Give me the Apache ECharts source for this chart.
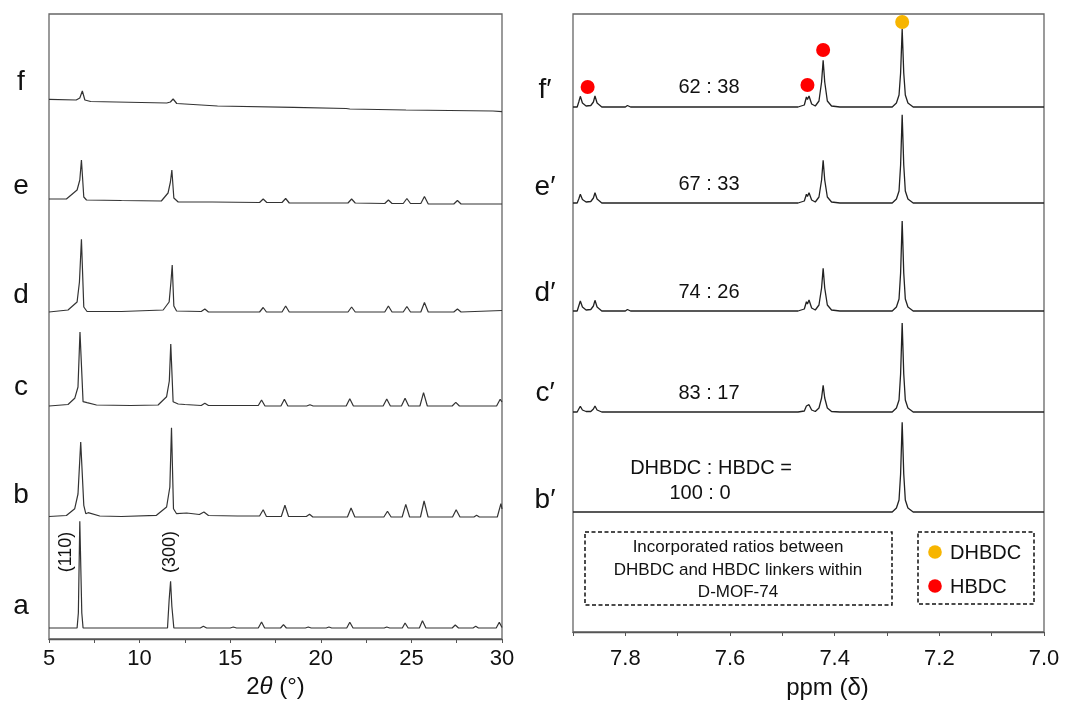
<!DOCTYPE html>
<html lang="en">
<head>
<meta charset="utf-8">
<title>XRD and NMR of D-MOF-74</title>
<script src="https://cdn.jsdelivr.net/npm/echarts@6/dist/echarts.min.js"></script>
<style>
  html, body { margin: 0; padding: 0; background: #fff; }
  #main { width: 1069px; height: 703px; }
</style>
</head>
<body>
<div id="main"></div>
<script type="text/javascript">
// ---- XRD patterns (2theta, intensity a.u.) ----
var xrdNames = ['a', 'b', 'c', 'd', 'e', 'f'];
var xrdA = [[5,0],[6.55,0],[6.62,15],[6.7,106.7],[6.81,15],[6.88,0],[11.54,0],[11.63,28],[11.71,46.7],[11.78,21.7],[11.89,0],[13.35,0],[13.52,1.7],[13.7,0],[15.0,0],[15.17,1],[15.35,0],[16.55,0],[16.73,6],[16.9,0],[17.78,0],[17.94,3.3],[18.1,0],[19.15,0],[19.31,1],[19.47,0],[20.3,0],[20.45,1],[20.6,0],[21.43,0],[21.6,5.7],[21.78,0],[23.5,0],[23.64,1],[23.8,0],[24.5,0],[24.65,5],[24.82,0],[25.44,0],[25.61,7.3],[25.8,0],[27.25,0],[27.42,3],[27.6,0],[28.4,0],[28.55,1.7],[28.7,0],[29.68,0],[29.85,5.7],[30,0.5]];
var xrdB = [[5,0.5],[5.96,1.5],[6.42,8.3],[6.6,23],[6.75,75],[6.92,11.7],[7.03,3.3],[7.16,4.3],[7.8,1],[9.0,0.5],[10.93,1.7],[11.49,10],[11.67,30],[11.76,89.3],[11.87,8.3],[12.04,3.3],[12.6,4],[13.3,2.5],[13.55,5],[13.8,1.5],[15.4,1],[16.62,1],[16.82,7.3],[17.0,0.5],[17.82,0.5],[18.02,11.7],[18.22,0.5],[19.2,0.5],[19.38,2.7],[19.56,0],[21.47,0],[21.67,9],[21.88,0],[23.48,0],[23.68,5.7],[23.88,0],[24.49,0],[24.69,12.7],[24.9,0],[25.5,0],[25.7,16],[25.92,0],[27.27,0],[27.47,7.3],[27.68,0],[28.45,0],[28.6,1.7],[28.75,0],[29.74,0],[29.94,13.3],[30,8]];
var xrdC = [[5,0],[6.05,1.5],[6.42,7.7],[6.6,19],[6.71,74],[6.88,4.3],[7.1,3.3],[7.62,1],[9.5,0.5],[11.02,1],[11.49,9.3],[11.64,25],[11.72,62],[11.85,4.3],[12.13,2],[12.5,1.5],[13.4,0.5],[13.6,2.7],[13.8,0.5],[16.55,0.5],[16.73,6],[16.92,0],[17.8,0],[17.99,6.7],[18.18,0],[19.22,0],[19.4,1.3],[19.58,0],[21.4,0],[21.6,7.3],[21.8,0],[23.44,0],[23.64,7],[23.84,0],[24.45,0],[24.65,7.7],[24.85,0],[25.47,0],[25.67,13.3],[25.88,0],[27.25,0],[27.45,3.7],[27.65,0],[29.7,0],[29.9,6.7],[30,4]];
var xrdD = [[5,0],[6.05,2],[6.55,10],[6.68,30],[6.79,72.7],[6.92,5],[7.1,0.5],[9,0.5],[11.3,2],[11.63,10],[11.73,30],[11.8,47],[11.89,6],[12.04,1],[13.4,0.5],[13.6,3],[13.8,0],[16.62,0],[16.82,4.5],[17.0,0],[17.86,0],[18.06,6],[18.26,0],[21.5,0],[21.7,5],[21.9,0],[23.53,0],[23.73,6],[23.93,0],[24.55,0],[24.75,5.5],[24.95,0],[25.52,0],[25.72,9.5],[25.93,0],[27.34,0],[27.54,3],[27.74,0],[30,1.5]];
var xrdE = [[5,5],[5.96,5],[6.55,14],[6.7,24],[6.79,44],[6.92,7],[7.07,4],[9,3.5],[11.2,3],[11.57,11],[11.7,22],[11.78,34],[11.89,6],[12.13,2],[14,2],[16.62,1.5],[16.82,5],[17.02,1.5],[17.86,1.5],[18.06,5.5],[18.26,1],[21.5,1],[21.7,5],[21.9,1],[23.53,0.5],[23.73,4],[23.93,0.5],[24.55,0.5],[24.75,5.5],[24.95,0.5],[25.52,0.5],[25.72,7.5],[25.93,0],[27.34,0],[27.54,3.5],[27.74,0],[30,0]];
var xrdF = [[5,12.7],[6.5,12],[6.7,14],[6.84,21],[6.98,12],[7.3,10.5],[11.5,9],[11.7,10],[11.85,13],[12.05,8.5],[14.3,6],[18.5,4.7],[21.4,3.5],[21.6,3],[24.7,2],[29.5,1],[30,0.3]];
var xrdTicks = [5, 10, 15, 20, 25, 30];

// ---- 1H NMR spectra (ppm, intensity a.u.) ----
var nmrNames = ['b\u2032', 'c\u2032', 'd\u2032', 'e\u2032', 'f\u2032'];
var nmrB = [[7.9,0],[7.29,0],[7.282,4],[7.277,12],[7.274,38],[7.271,89.7],[7.268,38],[7.265,12],[7.26,4],[7.25,0],[7.0,0]];
var nmrC = [[7.9,0],[7.892,0],[7.889,3],[7.886,5.7],[7.882,2],[7.875,0.5],[7.866,0.5],[7.861,3],[7.858,6],[7.854,2],[7.845,0],[7.47,0],[7.458,1],[7.454,6],[7.452,4.5],[7.449,7.3],[7.444,2],[7.437,0.5],[7.43,4],[7.425,14],[7.422,26.7],[7.419,14],[7.414,4],[7.406,0.5],[7.39,0],[7.29,0],[7.282,4],[7.277,12],[7.274,38],[7.271,89],[7.268,38],[7.265,12],[7.26,4],[7.25,0],[7.0,0]];
var nmrD = [[7.9,0],[7.892,0],[7.889,5],[7.886,10],[7.882,4],[7.875,1],[7.866,1.5],[7.861,5],[7.858,10.7],[7.854,4],[7.845,0],[7.80,0],[7.796,1.5],[7.79,0],[7.47,0],[7.458,2],[7.454,9.3],[7.452,7],[7.449,11],[7.444,3],[7.437,1],[7.43,6],[7.425,23],[7.422,42.7],[7.419,23],[7.414,6],[7.406,1],[7.39,0],[7.29,0],[7.282,4],[7.277,12],[7.274,38],[7.271,90],[7.268,38],[7.265,12],[7.26,4],[7.25,0],[7.0,0]];
var nmrE = [[7.9,0],[7.892,0],[7.889,4],[7.886,8.7],[7.882,3.5],[7.875,1],[7.866,1.5],[7.861,5],[7.858,10.3],[7.854,4],[7.845,0],[7.47,0],[7.458,2],[7.454,8.7],[7.452,6.5],[7.449,10.3],[7.444,3],[7.437,1],[7.43,6],[7.425,23],[7.422,42.7],[7.419,23],[7.414,6],[7.406,1],[7.39,0],[7.29,0],[7.282,4],[7.277,12],[7.274,38],[7.271,88.3],[7.268,38],[7.265,12],[7.26,4],[7.25,0],[7.0,0]];
var nmrF = [[7.9,0],[7.892,0],[7.889,5],[7.886,10.7],[7.882,4],[7.875,1],[7.866,1.5],[7.861,5],[7.858,11],[7.854,4],[7.845,0],[7.80,0],[7.796,1.5],[7.79,0],[7.47,0],[7.458,2],[7.454,10],[7.452,7.5],[7.449,11],[7.444,3],[7.437,1],[7.43,6],[7.425,25],[7.422,46.7],[7.419,25],[7.414,6],[7.406,1],[7.39,0],[7.29,0],[7.282,4],[7.277,12],[7.274,34],[7.271,78],[7.268,34],[7.265,12],[7.26,4],[7.25,0],[7.0,0]];
var nmrTicks = [7.8, 7.6, 7.4, 7.2, 7.0];
var ratioLabels = ['DHBDC : HBDC =\n100 : 0', '83 : 17', '74 : 26', '67 : 33', '62 : 38'];
// peak assignments marked on f'
var hbdcMarks = [[7.872, 20], [7.452, 22], [7.422, 57]];
var dhbdcMarks = [[7.271, 85]];

var FONT = '"Liberation Sans", Arial, sans-serif';
var LINE = '#333';
var RED = '#ff0000', ORANGE = '#f7b500';

var myChart = echarts.init(document.getElementById('main'));

// layout
var L = {left: 49, width: 453}, R = {left: 573, width: 471};
var xrdBase = [628, 517, 406, 312, 204, 112];
var nmrBase = [512, 412, 311, 203, 107];
var H = 110;

var grid = [], xAxis = [], yAxis = [], series = [];

// frame grids with the visible bottom axes
grid.push({left: L.left, top: 14, width: L.width, height: 625, show: true, borderColor: '#666', borderWidth: 1.3, outerBoundsMode: 'none'});
grid.push({left: R.left, top: 14, width: R.width, height: 618, show: true, borderColor: '#666', borderWidth: 1.3, outerBoundsMode: 'none'});
xAxis.push({
    gridIndex: 0, type: 'value', min: 5, max: 30, interval: 2.5,
    name: '2{i|\u03b8} (\u00b0)', nameLocation: 'middle', nameGap: 36,
    nameTextStyle: {fontFamily: FONT, fontSize: 24, color: '#111',
        rich: {i: {fontFamily: FONT, fontSize: 24, fontStyle: 'italic', color: '#111'}}},
    axisLine: {lineStyle: {color: '#555', width: 1.3}},
    axisTick: {show: true, inside: false, length: 4, lineStyle: {color: '#555'}},
    splitLine: {show: false},
    axisLabel: {fontFamily: FONT, fontSize: 22, color: '#111', margin: 9,
        formatter: function (v) { return xrdTicks.indexOf(v) >= 0 ? String(v) : ''; }}
});
xAxis.push({
    gridIndex: 1, type: 'value', min: 7.0, max: 7.9, interval: 0.1, inverse: true,
    name: 'ppm (\u03b4)', nameLocation: 'middle', nameGap: 44,
    nameTextStyle: {fontFamily: FONT, fontSize: 24, color: '#111', padding: [0, 0, 0, 38]},
    axisLine: {lineStyle: {color: '#555', width: 1.3}},
    axisTick: {show: true, inside: false, length: 4, lineStyle: {color: '#555'}},
    splitLine: {show: false},
    axisLabel: {fontFamily: FONT, fontSize: 22, color: '#111', margin: 16,
        formatter: function (v) {
            var k = Math.round(v * 10) / 10;
            return nmrTicks.indexOf(k) >= 0 ? k.toFixed(1) : '';
        }}
});
yAxis.push({gridIndex: 0, show: false, min: 0, max: 1});
yAxis.push({gridIndex: 1, show: false, min: 0, max: 1});

// one hidden grid per trace, baseline at the bottom
var xrdData = [xrdA, xrdB, xrdC, xrdD, xrdE, xrdF];
xrdData.forEach(function (d, i) {
    var gi = grid.length;
    grid.push({left: L.left, width: L.width, top: xrdBase[i] - H, height: H, outerBoundsMode: 'none'});
    xAxis.push({gridIndex: gi, type: 'value', min: 5, max: 30, show: false});
    yAxis.push({gridIndex: gi, type: 'value', min: 0, max: H, show: false});
    series.push({name: xrdNames[i], type: 'line', xAxisIndex: gi, yAxisIndex: gi, data: d,
        showSymbol: false, symbol: 'none', clip: false, silent: true,
        lineStyle: {color: LINE, width: 1.2}});
});
var nmrData = [nmrB, nmrC, nmrD, nmrE, nmrF];
var fGrid = 0;
nmrData.forEach(function (d, i) {
    var gi = grid.length;
    grid.push({left: R.left, width: R.width, top: nmrBase[i] - H, height: H, outerBoundsMode: 'none'});
    xAxis.push({gridIndex: gi, type: 'value', min: 7.0, max: 7.9, inverse: true, show: false});
    yAxis.push({gridIndex: gi, type: 'value', min: 0, max: H, show: false});
    series.push({name: nmrNames[i], type: 'line', xAxisIndex: gi, yAxisIndex: gi, data: d,
        showSymbol: false, symbol: 'none', clip: false, silent: true,
        lineStyle: {color: '#222', width: 1.3}});
    fGrid = gi;
});
series.push({name: 'HBDC', type: 'scatter', xAxisIndex: fGrid, yAxisIndex: fGrid, data: hbdcMarks,
    symbolSize: 14, clip: false, itemStyle: {color: RED, opacity: 1}, z: 5});
series.push({name: 'DHBDC', type: 'scatter', xAxisIndex: fGrid, yAxisIndex: fGrid, data: dhbdcMarks,
    symbolSize: 14, clip: false, itemStyle: {color: ORANGE, opacity: 1}, z: 5});

// annotations
function txt(x, y, s, size, opts) {
    var o = {type: 'text', x: x, y: y, z: 10, silent: true,
        style: {text: s, fill: '#111', font: size + 'px ' + FONT, textAlign: 'center', textVerticalAlign: 'middle'}};
    if (opts) { for (var k in opts) { if (k === 'style') { for (var s2 in opts.style) o.style[s2] = opts.style[s2]; } else o[k] = opts[k]; } }
    return o;
}
var graphic = [];
var xrdLabelY = [606, 495, 387, 295, 186, 82];
xrdNames.forEach(function (n, i) { graphic.push(txt(21, xrdLabelY[i], n, 28)); });
var nmrLabelY = [500, 393, 293, 187, 90];
nmrNames.forEach(function (n, i) { graphic.push(txt(545, nmrLabelY[i], n, 28)); });
graphic.push(txt(66, 552, '(110)', 18, {rotation: Math.PI / 2}));
graphic.push(txt(170, 552, '(300)', 18, {rotation: Math.PI / 2}));
var ratioY = [480, 393, 292, 184, 87];
ratioLabels.forEach(function (s, i) {
    if (i === 0) {
        graphic.push(txt(711, 468, s.split('\n')[0], 20));
        graphic.push(txt(700, 493, s.split('\n')[1], 20));
    } else {
        graphic.push(txt(709, ratioY[i], s, 20));
    }
});
graphic.push({type: 'rect', shape: {x: 585, y: 532, width: 307, height: 73}, silent: true,
    style: {fill: 'none', stroke: '#111', lineWidth: 1.5, lineDash: [4, 2.5]}});
graphic.push(txt(738, 547, 'Incorporated ratios between', 17));
graphic.push(txt(738, 570, 'DHBDC and HBDC linkers within', 17));
graphic.push(txt(738, 592, 'D-MOF-74', 17));
graphic.push({type: 'rect', shape: {x: 918, y: 532, width: 116, height: 72}, silent: true,
    style: {fill: 'none', stroke: '#111', lineWidth: 1.5, lineDash: [4, 2.5]}});
graphic.push({type: 'circle', shape: {cx: 935, cy: 552, r: 6.8}, silent: true, style: {fill: ORANGE}});
graphic.push({type: 'circle', shape: {cx: 935, cy: 586, r: 6.8}, silent: true, style: {fill: RED}});
graphic.push(txt(950, 553, 'DHBDC', 20, {style: {textAlign: 'left'}}));
graphic.push(txt(950, 587, 'HBDC', 20, {style: {textAlign: 'left'}}));

myChart.setOption({
    animation: false,
    backgroundColor: '#fff',
    grid: grid,
    xAxis: xAxis,
    yAxis: yAxis,
    series: series,
    graphic: graphic
});
</script>
</body>
</html>
